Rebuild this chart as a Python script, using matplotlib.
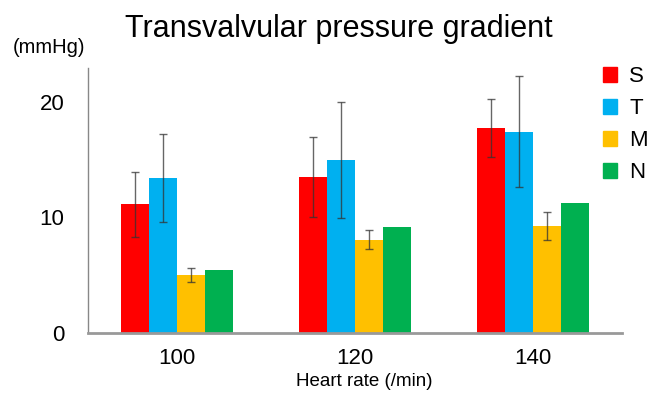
import numpy as np
import matplotlib.pyplot as plt
from matplotlib.patches import Patch

plt.rcParams['font.family'] = ['Liberation Sans', 'DejaVu Sans']

# Datos
rates = ['100', '120', '140']
series = ['S', 'T', 'M', 'N']
colores = ['#FF0000', '#00B0F0', '#FFC000', '#00B050']
S = [11.1, 13.5, 17.7]
S_err = [2.8, 3.45, 2.5]
T = [13.4, 14.95, 17.4]
T_err = [3.8, 5.05, 4.8]
M = [4.95, 8.05, 9.2]
M_err = [0.6, 0.85, 1.2]
N = [5.4, 9.1, 11.25]

fig = plt.figure(figsize=(6.51, 3.94), dpi=100)
ax = fig.add_axes([0.135, 0.156, 0.82, 0.671])

x = np.arange(len(rates))
w = 0.157
valores = [S, T, M, N]
errores = [S_err, T_err, M_err, None]
for i, (v, e, c) in enumerate(zip(valores, errores, colores)):
    pos = x + (i - 1.5) * w
    ax.bar(pos, v, width=w, color=c, edgecolor='none', zorder=2)
    if e is not None:
        ax.errorbar(pos, v, yerr=e, fmt='none', ecolor='#333333', elinewidth=1,
                    capsize=3, capthick=1, alpha=0.75, zorder=3)

ax.set_xlim(-0.5, 2.5)
ax.set_ylim(0, 22.9)
ax.set_yticks([0, 10, 20])
ax.set_xticks(x)
ax.set_xticklabels(rates)
ax.tick_params(length=0, labelsize=16)
ax.tick_params(axis='x', pad=11)
ax.tick_params(axis='y', pad=17)
for s in ['top', 'right']:
    ax.spines[s].set_visible(False)
ax.spines['left'].set_color('#888888')
ax.spines['left'].set_linewidth(1)
ax.spines['bottom'].set_color('#999999')
ax.spines['bottom'].set_linewidth(2)

fig.text(0.52, 0.927, 'Transvalvular pressure gradient', ha='center', va='center', fontsize=22)
fig.text(0.075, 0.88, '(mmHg)', ha='center', va='center', fontsize=14.5)
fig.text(0.56, 0.032, 'Heart rate (/min)', ha='center', va='center', fontsize=13.5)

handles = [Patch(color=c, label=s) for s, c in zip(series, colores)]
fig.legend(handles=handles, loc='upper left', bbox_to_anchor=(0.912, 0.855), frameon=False,
           fontsize=16, handlelength=0.65, handleheight=0.65, handletextpad=0.55,
           labelspacing=0.5, borderaxespad=0)

fig.savefig('out.png', dpi=100)
